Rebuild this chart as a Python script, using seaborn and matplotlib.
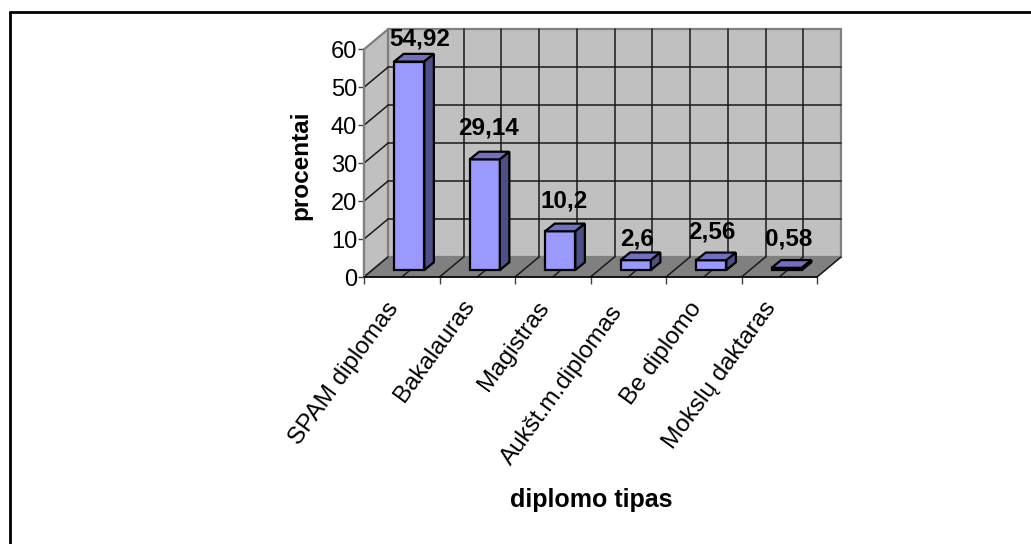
import matplotlib
matplotlib.use("Agg")
import matplotlib.pyplot as plt
import matplotlib.lines as mlines
from matplotlib.patches import Polygon
from matplotlib.transforms import Affine2D
import pandas as pd
import seaborn as sns

categories = ["SPAM diplomas", "Bakalauras", "Magistras",
              "Aukšt.m.diplomas", "Be diplomo", "Mokslų daktaras"]
percentages = [54.92, 29.14, 10.2, 2.6, 2.56, 0.58]
value_labels = ["54,92", "29,14", "10,2", "2,6", "2,56", "0,58"]
y_ticks = [0, 10, 20, 30, 40, 50, 60]

W, H = 1031, 544
DPI = 100

sns.set_theme(style="white")
plt.rcParams["font.family"] = ["Liberation Sans", "DejaVu Sans"]

fig = plt.figure(figsize=(W / DPI, H / DPI), dpi=DPI, facecolor="white")

# Front plane of the pseudo-3D box, in pixels from the top-left corner
left, right, top, bottom = 364.0, 817.0, 49.3, 277.0
ax = fig.add_axes([left / W, 1 - bottom / H, (right - left) / W, (bottom - top) / H])
ax.patch.set_alpha(0)
for s in ax.spines.values():
    s.set_visible(False)

df = pd.DataFrame({"tipas": categories, "procentai": percentages})
sns.barplot(data=df, x="tipas", y="procentai", ax=ax, width=0.4,
            color="#9999FF", saturation=1, edgecolor="black", linewidth=1.6,
            zorder=5)
ax.set_xlim(-0.5, len(categories) - 0.5)
ax.set_ylim(0, 60)
ax.set_xlabel("")
ax.set_ylabel("")


def px(dx, dy):
    """Data-space transform shifted by screen pixels (y grows upward)."""
    return ax.transData + Affine2D().translate(dx, dy)


# Depth of the box and of the bars, in pixels
DEPTH_X, DEPTH_Y = 24.0, 20.0
BAR_X, BAR_Y = 7.5, 7.0
BAR_DX, BAR_DY = 9.5, 7.7
GRID = "#1a1a1a"

x0, x1 = ax.get_xlim()
back = px(DEPTH_X, DEPTH_Y)
screen = Affine2D()


def corner(x, y, depth):
    """Display coordinates of a data point pushed back by a depth fraction."""
    u, v = ax.transData.transform((x, y))
    return (u + DEPTH_X * depth, v + DEPTH_Y * depth)


def line(xs, ys, transform, color=GRID, lw=1.1, zorder=2):
    ax.add_line(mlines.Line2D(xs, ys, transform=transform, color=color, lw=lw,
                              zorder=zorder, clip_on=False))


def depth_line(x, y):
    a, b = corner(x, y, 0), corner(x, y, 1)
    line([a[0], b[0]], [a[1], b[1]], screen)


# Walls and floor
ax.add_patch(Polygon([(x0, 0), (x1, 0), (x1, 60), (x0, 60)], closed=True, transform=back,
                     fc="#C0C0C0", ec="#808080", lw=1.6, zorder=1, clip_on=False))
ax.add_patch(Polygon([corner(x0, 0, 0), corner(x0, 0, 1), corner(x0, 60, 1), corner(x0, 60, 0)],
                     closed=True, transform=screen, fc="#C0C0C0", ec="#808080", lw=1.6,
                     zorder=1, clip_on=False))
ax.add_patch(Polygon([corner(x0, 0, 0), corner(x1, 0, 0), corner(x1, 0, 1), corner(x0, 0, 1)],
                     closed=True, transform=screen, fc="#808080", ec="#808080", lw=1.0,
                     zorder=1, clip_on=False))

# Gridlines on the back wall and the side wall
for v in y_ticks[1:-1]:
    line([x0, x1], [v, v], back)
for v in y_ticks[:-1]:
    depth_line(x0, v)

# Half-category lines on the back wall and the floor
for i in range(1, 2 * len(categories) + 1):
    x = x0 + i * 0.5
    if 2 <= i < 2 * len(categories):
        line([x, x], [0, 60], back)
    depth_line(x, 0)

# Bars: shift the fronts off the front plane, then add top and side faces
for bar in ax.patches[:len(categories)]:
    xa, w, h = bar.get_x(), bar.get_width(), bar.get_height()
    bar.set_transform(px(BAR_X, BAR_Y))
    bar.set_clip_on(False)
    bar.set_joinstyle("miter")
    p0 = px(BAR_X, BAR_Y).transform((xa, h))
    p1 = px(BAR_X, BAR_Y).transform((xa + w, h))
    p2 = px(BAR_X, BAR_Y).transform((xa + w, 0))
    ax.add_patch(Polygon([p0, p1, (p1[0] + BAR_DX, p1[1] + BAR_DY), (p0[0] + BAR_DX, p0[1] + BAR_DY)],
                         closed=True, transform=screen, fc="#7070BF", ec="black", lw=1.6,
                         zorder=5, clip_on=False))
    ax.add_patch(Polygon([p2, p1, (p1[0] + BAR_DX, p1[1] + BAR_DY), (p2[0] + BAR_DX, p2[1] + BAR_DY)],
                         closed=True, transform=screen, fc="#4F4F87", ec="black", lw=1.6,
                         zorder=5, clip_on=False))

# Value labels placed above each bar with hand-tuned pixel offsets
label_shift = [(18, 30), (11, 38.5), (11, 37), (9, 28), (8, 35), (9, 36)]
for i, (val, label) in enumerate(zip(percentages, value_labels)):
    u, v = ax.transData.transform((i, val))
    sx, sy = label_shift[i]
    ax.text(u + sx, v + sy, label, transform=screen, ha="center", va="center",
            fontsize=17.5, fontweight="bold", color="black", zorder=8, clip_on=False)

# Front axis lines
line([x0, x0], [0, 60], ax.transData, color="#808080", lw=1.6, zorder=3)
line([x0, x1], [0, 0], ax.transData, color="black", lw=1.2, zorder=3)

# Ticks and tick labels
ax.set_yticks(y_ticks)
ax.set_yticklabels([str(t) for t in y_ticks], fontsize=17, color="black")
ax.tick_params(axis="y", left=True, length=4, width=1, color="#404040", pad=1)
tick_positions = [x0 + i for i in range(len(categories) + 1)]
ax.set_xticks(tick_positions)
ax.set_xticklabels([""] * len(tick_positions))
ax.tick_params(axis="x", bottom=True, length=5, width=1, color="#404040")

label_anchor = [(394, 305), (470, 302), (545, 304), (618, 308), (697, 304), (772, 304)]
for name, (ex, ey) in zip(categories, label_anchor):
    fig.text(ex / W, 1 - ey / H, name, rotation=54, rotation_mode="anchor", ha="right", va="center",
             fontsize=17.5, color="black")

fig.text(301 / W, 1 - 165 / H, "procentai", rotation=90, ha="center", va="center",
         fontsize=17.5, fontweight="bold", color="black")
fig.text(591 / W, 1 - 500 / H, "diplomo tipas", ha="center", va="center",
         fontsize=18, fontweight="bold", color="black")

# Chart frame
for xs, ys in [((9.5, 9.5), (12, 544)), ((9.5, 1031), (12, 12))]:
    fig.add_artist(mlines.Line2D([x / W for x in xs], [1 - y / H for y in ys],
                                 color="black", lw=2.0, transform=fig.transFigure))

fig.savefig("out.png", dpi=DPI, facecolor="white")
